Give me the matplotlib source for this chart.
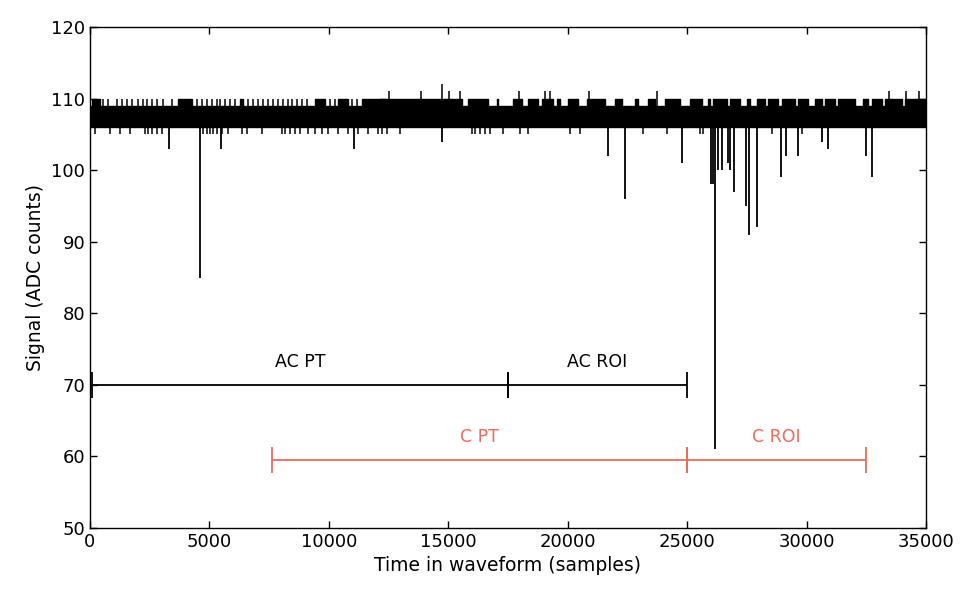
"""
Waveform with pre-trigger / ROI windows for AC and C channels
"""
import matplotlib
matplotlib.use('Agg')
import matplotlib.pyplot as plt

# --- data ------------------------------------------------------------------
N_SAMPLES = 35000
BAND_LOW = 106      # solid noise band
BAND_HIGH = 109

# short excursions up to 110 (single samples)
UP_TICKS = [559, 768, 1117, 1327, 1536, 1745, 2024, 2234, 2373, 2583, 2792,
            3072, 3420, 4467, 4677, 4886, 5096, 5305, 5445, 5654, 5864, 6073,
            6631, 6841, 7050, 7260, 7469, 7678, 7888, 8097, 8307, 8446, 8656,
            8865, 9074, 10052, 10261, 10959, 11168]
UP_LEVEL = 110

# stretches where the noise keeps touching 110 (start, end)
UP_RUN_START = [70, 3700, 6282, 9423, 10400, 11378, 12142, 15841, 17028,
                17726, 18354, 18913, 19541, 20029, 20797, 21984, 22821, 23380,
                24078, 25123, 25890, 26100, 26798, 27496, 27915, 28403, 28962,
                29660, 30358, 30776, 31335, 32382, 32731, 33289, 34127]
UP_RUN_END = [419, 4258, 6422, 9842, 10819, 12355, 15562, 16679, 17098,
              18075, 18773, 19401, 19680, 20448, 21565, 22263, 22961, 23659,
              24706, 25611, 25960, 26658, 27217, 27635, 28264, 28822, 29520,
              30078, 30637, 31195, 32033, 32591, 33150, 33987, 35000]

# excursions down to 105
DOWN_TICKS = [209, 837, 1256, 1675, 2303, 2442, 2582, 2791, 3000, 4745, 4884,
              5024, 5164, 5303, 5512, 5792, 6350, 6560, 7188, 8025, 8165, 8374,
              8583, 8793, 9142, 9421, 9700, 9979, 10398, 10816, 11235, 11654,
              12072, 12213, 12422, 12980, 15980, 16120, 16329, 16538, 16748,
              17306, 18004, 18353, 20098, 20516, 23167, 24144, 25540, 25680,
              28555, 29811]
DOWN_LEVEL = 105

# larger positive spikes
POS_SPIKE_X = [12520, 13860, 14740, 15030, 15490, 17960, 19050, 19260, 20890,
               23740, 33454, 34165, 34709]
POS_SPIKE_Y = [111, 111, 112, 111, 111, 111, 111, 111, 111, 111, 111, 111, 111]

# negative pulses
NEG_SPIKE_X = [3300, 4600, 5480, 11050, 14740, 21690, 22400, 24780, 26000,
               26080, 26150, 26294, 26461, 26712, 26797, 26963, 27466, 27591,
               27926, 28932, 29141, 29643, 30648, 30900, 32491, 32742]
NEG_SPIKE_Y = [103, 85, 103, 103, 104, 102, 96, 101, 98, 98, 61, 100, 100, 101,
               100, 97, 95, 91, 92, 99, 102, 102, 104, 103, 102, 99]

# analysis windows
AC_EDGES = [100, 17500, 25000]
AC_LABELS = ['AC PT', 'AC ROI']
AC_Y = 70
C_EDGES = [7600, 25000, 32500]
C_LABELS = ['C PT', 'C ROI']
C_Y = 59.5

RED = '#f0695b'

plt.rcParams['font.family'] = 'DejaVu Sans'
fig = plt.figure(figsize=(9.75, 6.02), dpi=100)
ax = fig.add_axes([0.0923, 0.1229, 0.8574, 0.8322])

# noise band
ax.fill_between([0, N_SAMPLES], BAND_LOW, BAND_HIGH, color='black',
                linewidth=1.0, edgecolor='black')
ax.broken_barh([(s, e - s) for s, e in zip(UP_RUN_START, UP_RUN_END)],
               (BAND_HIGH, UP_LEVEL - BAND_HIGH), color='black')
ax.vlines(UP_TICKS, BAND_HIGH, UP_LEVEL, color='black', linewidth=1.1)
ax.vlines(DOWN_TICKS, DOWN_LEVEL, BAND_LOW, color='black', linewidth=1.1)
ax.vlines(POS_SPIKE_X, BAND_HIGH, POS_SPIKE_Y, color='black', linewidth=1.1)
ax.vlines(NEG_SPIKE_X, NEG_SPIKE_Y, BAND_LOW, color='black', linewidth=1.3)

# window markers
for edges, labels, yv, col, dy in [(AC_EDGES, AC_LABELS, AC_Y, 'black', 3.2),
                                   (C_EDGES, C_LABELS, C_Y, RED, 3.2)]:
    for i, lab in enumerate(labels):
        lo, hi = edges[i], edges[i + 1]
        mid = (lo + hi) / 2
        ax.errorbar(mid, yv, xerr=(hi - lo) / 2, fmt='none', ecolor=col,
                    elinewidth=1.3, capsize=9.4, capthick=1.3)
        ax.text(mid, yv + dy, lab, color=col, fontsize=12.5,
                ha='center', va='center')

ax.set_xlim(0, N_SAMPLES)
ax.set_ylim(50, 120)
ax.set_xticks(range(0, 35001, 5000))
ax.set_yticks(range(50, 121, 10))
ax.tick_params(direction='in', top=True, right=True, length=5, width=1.0,
               labelsize=13)
for sp in ax.spines.values():
    sp.set_linewidth(1.0)

ax.set_xlabel('Time in waveform (samples)', fontsize=13.5)
ax.set_ylabel('Signal (ADC counts)', fontsize=13.5)

plt.savefig('out.png', dpi=100)
plt.close()
